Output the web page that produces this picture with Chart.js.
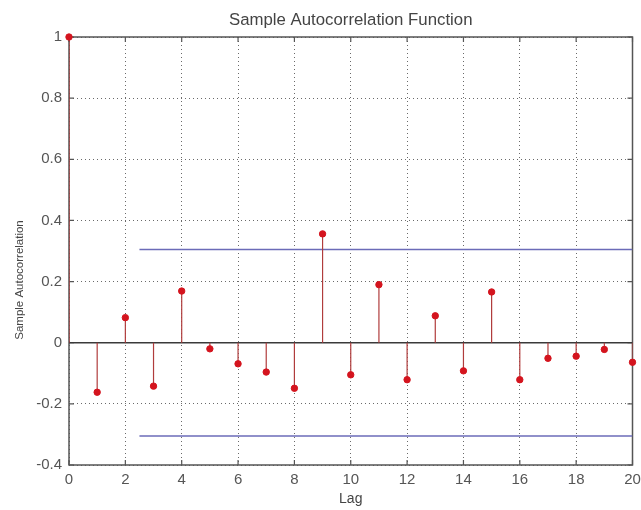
<!DOCTYPE html>
<html>
<head>
<meta charset="utf-8">
<script src="https://cdn.jsdelivr.net/npm/chart.js@4/dist/chart.umd.min.js"></script>
<style>
  body { margin: 0; background: #fff; }
  canvas { display: block; }
</style>
</head>
<body>
<canvas id="acfChart" width="641" height="510"></canvas>
<script>
// lags and sample autocorrelation values
const lags = [0, 1, 2, 3, 4, 5, 6, 7, 8, 9, 10, 11, 12, 13, 14, 15, 16, 17, 18, 19, 20];
const acf = [1, -0.162, 0.082, -0.142, 0.169, -0.02, -0.069, -0.096, -0.149, 0.356,
  -0.105, 0.19, -0.121, 0.088, -0.092, 0.166, -0.121, -0.051, -0.044, -0.022, -0.064];
// confidence bounds
const boundLags = [2.5, 20];
const upperBound = [0.305, 0.305];
const lowerBound = [-0.305, -0.305];

const xTicks = [0, 2, 4, 6, 8, 10, 12, 14, 16, 18, 20];
const yTicks = [-0.4, -0.2, 0, 0.2, 0.4, 0.6, 0.8, 1];

const FONT = 'Liberation Sans, Arial, sans-serif';

const markers = lags.map((l, i) => ({ x: l, y: acf[i] }));
// each stem goes from 0 to the value, with a gap after it
const stems = [];
lags.forEach((l, i) => {
  stems.push({ x: l, y: 0 });
  stems.push({ x: l, y: acf[i] });
  stems.push({ x: l, y: null });
});

function noPad(scale) {
  scale.paddingLeft = 0;
  scale.paddingRight = 0;
  scale.paddingTop = 0;
  scale.paddingBottom = 0;
}

var ctx = document.getElementById('acfChart');

var chart = new Chart(ctx, {
  type: 'scatter',
  data: {
    datasets: [
      {
        label: 'baseline',
        type: 'line',
        data: [{ x: xTicks[0], y: 0 }, { x: xTicks[xTicks.length - 1], y: 0 }],
        borderColor: '#3a3a3a',
        borderWidth: 1.5,
        pointRadius: 0,
        order: 4
      },
      {
        label: 'upper',
        type: 'line',
        data: boundLags.map((l, i) => ({ x: l, y: upperBound[i] })),
        borderColor: '#6b6bb8',
        borderWidth: 1.5,
        pointRadius: 0,
        order: 3
      },
      {
        label: 'lower',
        type: 'line',
        data: boundLags.map((l, i) => ({ x: l, y: lowerBound[i] })),
        borderColor: '#6b6bb8',
        borderWidth: 1.5,
        pointRadius: 0,
        order: 3
      },
      {
        label: 'stems',
        type: 'line',
        data: stems,
        spanGaps: false,
        borderColor: '#b03c3c',
        borderWidth: 1.2,
        pointRadius: 0,
        order: 2
      },
      {
        label: 'acf',
        data: markers,
        backgroundColor: '#d4141e',
        borderColor: '#d4141e',
        pointRadius: 3.2,
        clip: false,
        order: 1
      }
    ]
  },
  options: {
    responsive: false,
    animation: false,
    layout: { padding: { left: 0, right: 8.5, top: 0, bottom: 0 } },
    plugins: {
      legend: { display: false },
      tooltip: { enabled: false }
    },
    scales: {
      x: {
        type: 'linear',
        min: 0,
        max: 20,
        afterBuildTicks: (scale) => { scale.ticks = xTicks.map(v => ({ value: v })); },
        afterFit: (scale) => { scale.height = 45; noPad(scale); },
        grid: {
          color: '#6a6a6a',
          lineWidth: 1,
          drawTicks: false
        },
        // in v4 the grid line dash is taken from border.dash
        border: { display: false, dash: [1, 3] },
        ticks: {
          color: '#555555',
          padding: 6,
          font: { family: FONT, size: 15 }
        },
        title: {
          display: true,
          text: 'Lag',
          color: '#444444',
          padding: { top: 0, bottom: 2 },
          font: { family: FONT, size: 14 }
        }
      },
      x2: {
        type: 'linear',
        position: 'top',
        min: 0,
        max: 20,
        afterFit: (scale) => { scale.height = 37; noPad(scale); },
        grid: { display: false },
        border: { display: false },
        ticks: { display: false },
        title: {
          display: true,
          text: 'Sample Autocorrelation Function',
          color: '#444444',
          padding: { top: 10, bottom: 0 },
          font: { family: FONT, size: 16.8 }
        }
      },
      y: {
        type: 'linear',
        min: -0.4,
        max: 1,
        afterBuildTicks: (scale) => { scale.ticks = yTicks.map(v => ({ value: v })); },
        afterFit: (scale) => { scale.width = 69; noPad(scale); },
        grid: {
          color: '#6a6a6a',
          lineWidth: 1,
          drawTicks: false
        },
        border: { display: false, dash: [1, 3] },
        ticks: {
          color: '#555555',
          padding: 7,
          font: { family: FONT, size: 15 },
          callback: (v) => String(Math.round(v * 10) / 10)
        }
      }
    }
  },
  plugins: [{
    // solid box with inward tick marks, y label
    id: 'boxFrame',
    beforeDatasetsDraw(chart) {
      const { ctx, chartArea: { left, right, top, bottom }, scales } = chart;
      ctx.save();
      ctx.strokeStyle = '#555555';
      ctx.lineWidth = 1.5;
      ctx.strokeRect(left, top, right - left, bottom - top);
      ctx.lineWidth = 1.2;
      ctx.beginPath();
      xTicks.forEach(v => {
        const px = scales.x.getPixelForValue(v);
        ctx.moveTo(px, top); ctx.lineTo(px, top + 5);
        ctx.moveTo(px, bottom); ctx.lineTo(px, bottom - 5);
      });
      yTicks.forEach(v => {
        const py = scales.y.getPixelForValue(v);
        ctx.moveTo(left, py); ctx.lineTo(left + 5, py);
        ctx.moveTo(right, py); ctx.lineTo(right - 5, py);
      });
      ctx.stroke();
      // y axis label
      ctx.translate(20, 280);
      ctx.rotate(-Math.PI / 2);
      ctx.fillStyle = '#444444';
      ctx.font = '11.5px ' + FONT;
      ctx.textAlign = 'center';
      ctx.textBaseline = 'middle';
      ctx.fillText('Sample Autocorrelation', 0, 0);
      ctx.restore();
    }
  }]
});
</script>
</body>
</html>
